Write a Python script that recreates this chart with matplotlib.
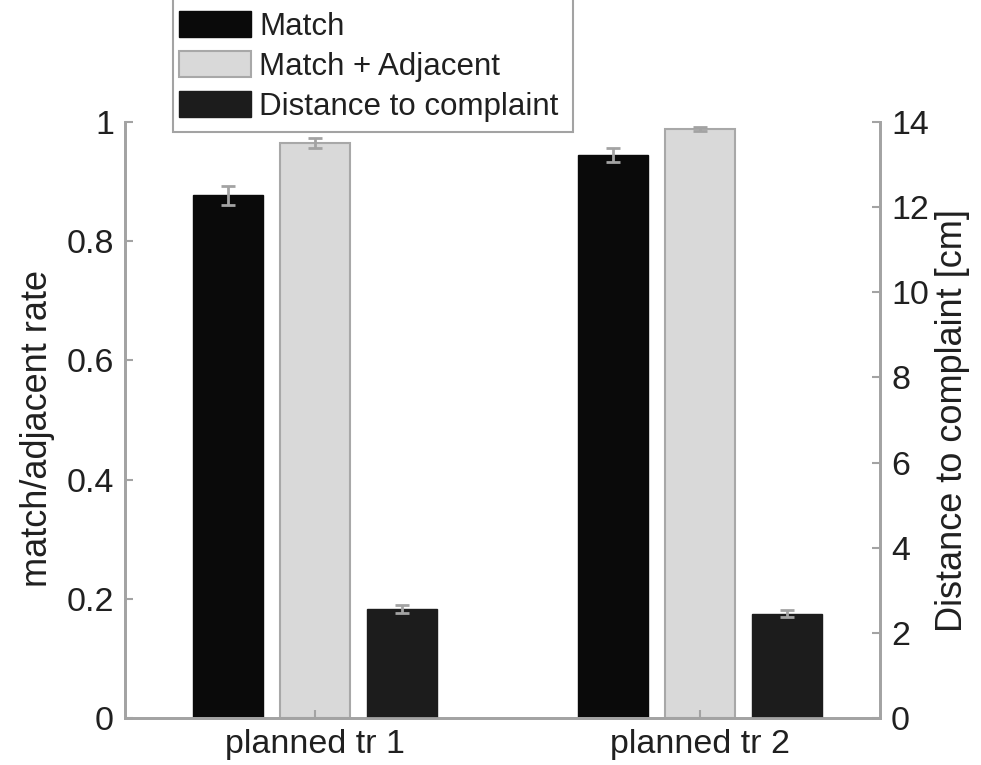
import matplotlib
matplotlib.use("Agg")
import matplotlib.pyplot as plt
from matplotlib.patches import Rectangle
import numpy as np

# Data
categories = ["planned tr 1", "planned tr 2"]
match_rate = [0.877, 0.945]
match_err = [0.016, 0.012]
adjacent_rate = [0.965, 0.988]
adjacent_err = [0.008, 0.003]
distance_cm = [2.56, 2.45]
distance_err = [0.09, 0.08]

plt.rcParams["font.family"] = ["Liberation Sans", "DejaVu Sans"]

gray = "#a3a3a3"
text_col = "#202020"
W, H = 981, 765

fig = plt.figure(figsize=(W / 100, H / 100), dpi=100)
ax = fig.add_axes([125 / W, 1 - 718 / H, (880 - 125) / W, (718 - 122) / H])
ax2 = ax.twinx()

x = np.arange(1, len(categories) + 1)
step = 0.226
width = 0.182

err_kw = dict(ecolor=gray, elinewidth=2, capsize=5, capthick=2)

b1 = ax.bar(x - step, match_rate, width, color="#0a0a0a", edgecolor="#0a0a0a",
            linewidth=1, yerr=match_err, error_kw=err_kw, label="Match")
b2 = ax.bar(x, adjacent_rate, width, color="#d9d9d9", edgecolor="#a8a8a8",
            linewidth=1.5, yerr=adjacent_err, error_kw=err_kw, label="Match + Adjacent")
b3 = ax2.bar(x + step, distance_cm, width, color="#1c1c1c", edgecolor="#1c1c1c",
             linewidth=1, yerr=distance_err, error_kw=err_kw, label="Distance to complaint")

ax.set_xlim(0.5065, 2.4675)
ax.set_ylim(0, 1)
ax2.set_ylim(0, 14)

ax.set_yticks([0, 0.2, 0.4, 0.6, 0.8, 1])
ax.set_yticklabels(["0", "0.2", "0.4", "0.6", "0.8", "1"])
ax2.set_yticks(range(0, 15, 2))
ax.set_xticks(x)
ax.set_xticklabels(categories)

for a in (ax, ax2):
    a.spines["top"].set_visible(False)
    for side in ("left", "right", "bottom"):
        a.spines[side].set_color(gray)
        a.spines[side].set_linewidth(2)
    a.tick_params(direction="in", length=6, width=1.5, color=gray,
                  labelsize=24.5, labelcolor=text_col, pad=8)

ax.set_ylabel("match/adjacent rate", fontsize=26, color=text_col)
ax.yaxis.set_label_coords(-0.093, 0.485)
ax2.set_ylabel("Distance to complaint [cm]", fontsize=26, color=text_col, labelpad=4)

# Legend frame drawn separately so it can run off the top edge
frame = Rectangle((173 / W, 1 - 132 / H), (573 - 173) / W, 200 / H,
                  transform=fig.transFigure, facecolor="white", edgecolor=gray,
                  linewidth=1.5, zorder=5)
fig.patches.append(frame)

leg = fig.legend(handles=[b1, b2, b3], loc="lower left",
                 bbox_to_anchor=(179 / W, 1 - 122 / H), bbox_transform=fig.transFigure,
                 fontsize=22.5, frameon=False, handlelength=2.3,
                 handleheight=0.9, handletextpad=0.26, labelspacing=0.3,
                 borderpad=0, borderaxespad=0)
leg.set_zorder(6)
for t in leg.get_texts():
    t.set_color(text_col)

fig.savefig("out.png", dpi=100)
